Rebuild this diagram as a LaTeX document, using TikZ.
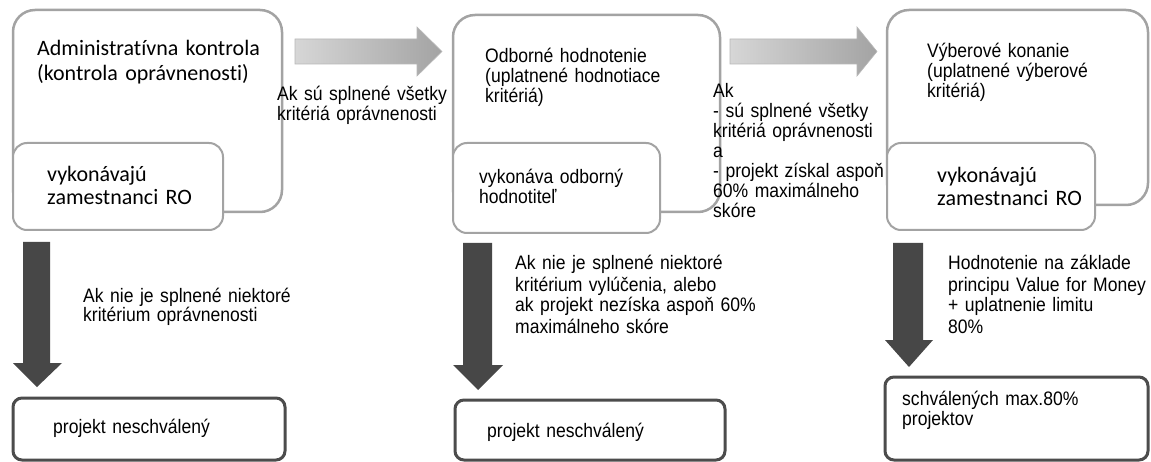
\documentclass[tikz,border=0pt]{standalone}
\usepackage{fontspec}
\setmainfont{Liberation Sans}[FakeStretch=0.9]
\newfontfamily\calib{Carlito}[Ligatures=NoCommon]
\begin{document}
\begin{tikzpicture}[x=1pt,y=-1pt,
  outerbox/.style={draw=black!36, line width=2.5pt, rounded corners=22pt, inner sep=0pt, outer sep=0pt, anchor=north west},
  innerbox/.style={draw=black!36, line width=2pt, fill=white, rounded corners=14pt, inner sep=0pt, outer sep=0pt, anchor=north west},
  resbox/.style={draw=black!70, line width=3pt, fill=white, rounded corners=9pt, inner sep=0pt, outer sep=0pt, anchor=north west},
  atxt/.style={inner sep=0pt, anchor=base west, align=left, text width=300pt, font=\fontsize{19.5}{20}\selectfont},
  atxtw/.style={inner sep=0pt, anchor=base west, align=left, text width=300pt, font=\fontsize{19.5}{21}\selectfont},
  ctxt/.style={inner sep=0pt, anchor=base west, align=left, text width=300pt, font=\calib\fontsize{22}{25}\selectfont},
  ctxts/.style={inner sep=0pt, anchor=base west, align=left, text width=300pt, font=\calib\fontsize{22}{23}\selectfont},
  rarrow/.style={left color=black!16, right color=black!36, draw=black!28, line width=0.6pt},
  darrow/.style={fill=black!72}
]
\useasboundingbox (0,0) rectangle (1151,462);
\fill[white] (0,0) rectangle (1151,462);

% stage boxes
\node[outerbox, minimum width=269pt, minimum height=202pt] (o1) at (13,10) {};
\node[innerbox, minimum width=210pt, minimum height=87pt] (i1) at (13,143) {};
\node[outerbox, minimum width=267pt, minimum height=197pt] (o2) at (453,15) {};
\node[innerbox, minimum width=207pt, minimum height=90pt] (i2) at (453,143) {};
\node[outerbox, minimum width=261pt, minimum height=195pt] (o3) at (887,10) {};
\node[innerbox, minimum width=208pt, minimum height=87pt] (i3) at (887,143) {};

% result boxes
\node[resbox, minimum width=272pt, minimum height=62pt] (r1) at (13,398) {};
\node[resbox, minimum width=270pt, minimum height=60pt] (r2) at (455,400) {};
\node[resbox, minimum width=263pt, minimum height=83pt] (r3) at (885,377) {};

% right arrows
\path[rarrow] (295,39) -- (417,39) -- (417,27) -- (442,51.5) -- (417,76) -- (417,64) -- (295,64) -- cycle;
\path[rarrow] (730,39) -- (857,39) -- (857,27) -- (877,51.5) -- (857,76) -- (857,64) -- (730,64) -- cycle;

% down arrows
\path[darrow] (23,242) -- (50,242) -- (50,363) -- (62,363) -- (37,387) -- (13,363) -- (23,363) -- cycle;
\path[darrow] (463,243) -- (492,243) -- (492,365) -- (503,365) -- (478,390) -- (453,365) -- (463,365) -- cycle;
\path[darrow] (893,243) -- (923,243) -- (923,340) -- (933,340) -- (909,367) -- (885,340) -- (893,340) -- cycle;

% texts
\node[ctxt] (t1) at (37,56) {Administratívna kontrola\\(kontrola oprávnenosti)};
\node[ctxts] (t1b) at (47,182) {vykonávajú\\zamestnanci RO};
\node[atxt] (l1) at (277,101) {Ak sú splnené všetky\\kritériá oprávnenosti};
\node[atxt] (t2) at (485,63) {Odborné hodnotenie\\(uplatnené hodnotiace\\kritériá)};
\node[atxt] (t2b) at (479,184) {vykonáva odborný\\hodnotiteľ};
\node[atxt] (l2) at (713,98) {Ak\\- sú splnené všetky\\kritériá oprávnenosti\\a\\- projekt získal aspoň\\60\% maximálneho\\skóre};
\node[atxt] (t3) at (927,58) {Výberové konanie\\(uplatnené výberové\\kritériá)};
\node[ctxts] (t3b) at (937,183) {vykonávajú\\zamestnanci RO};
\node[atxt] (d1) at (83,302) {Ak nie je splnené niektoré\\kritérium oprávnenosti};
\node[atxtw] (d2) at (515,270) {Ak nie je splnené niektoré\\kritérium vylúčenia, alebo\\ak projekt nezíska aspoň 60\%\\maximálneho skóre};
\node[atxtw] (d3) at (948,270) {Hodnotenie na základe\\principu Value for Money\\+ uplatnenie limitu\\80\%};
\node[atxt] (rt1) at (53,433) {projekt neschválený};
\node[atxt] (rt2) at (487,437) {projekt neschválený};
\node[atxt] (rt3) at (902,405) {schválených max.80\%\\projektov};
\end{tikzpicture}
\end{document}
